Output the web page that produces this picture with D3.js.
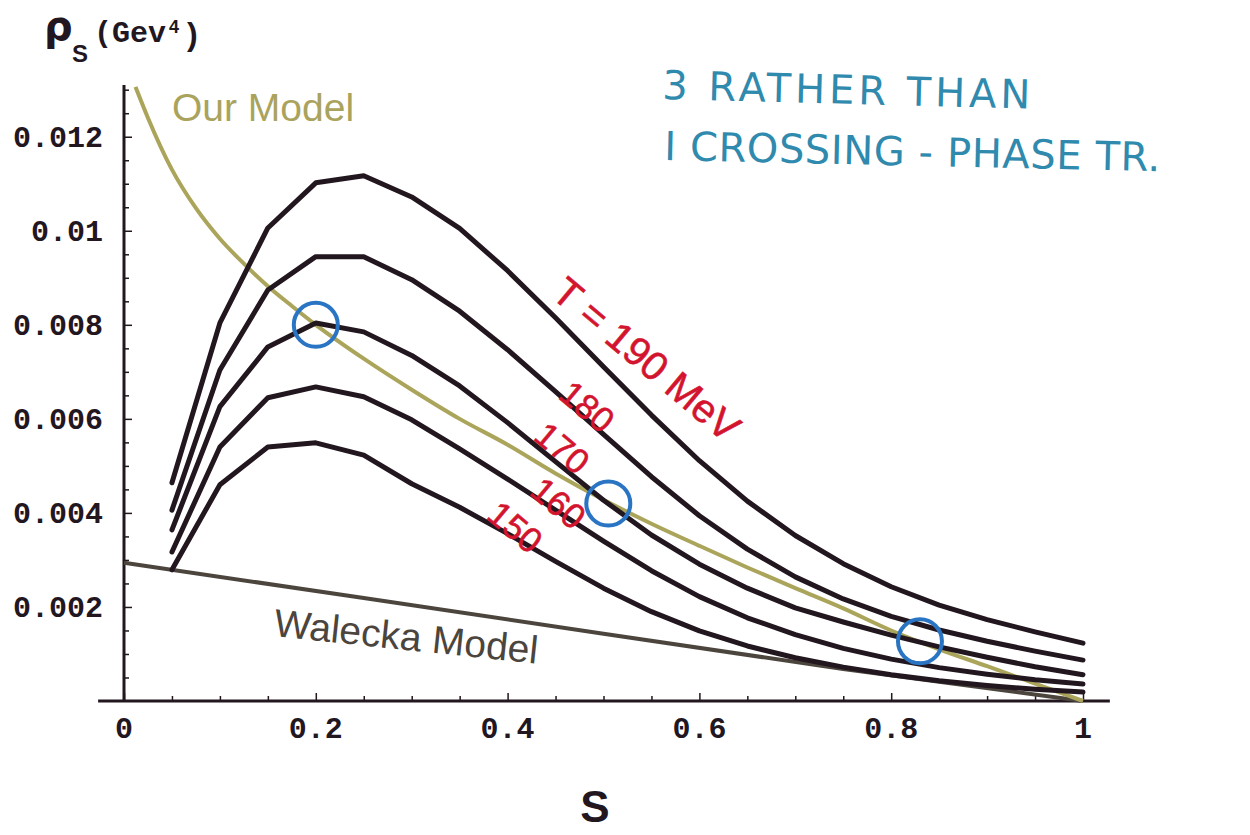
<!DOCTYPE html>
<meta charset="utf-8">
<style>
  body { margin: 0; background: #fff; }
  svg { display: block; }
</style>
<svg width="1250" height="835"></svg>
<script src="https://d3js.org/d3.v7.min.js"></script>
<script>

    // s grid of the temperature curves
    var sGrid = [0.05, 0.1, 0.15, 0.2, 0.25, 0.3, 0.35, 0.4, 0.45, 0.5,
                 0.55, 0.6, 0.65, 0.7, 0.75, 0.8, 0.85, 0.9, 0.95, 1.0];
    var t190 = [0.00464, 0.00804, 0.01006, 0.01102, 0.01117, 0.01072, 0.01005, 0.00915, 0.00815, 0.00711,
                0.00608, 0.00511, 0.00425, 0.00352, 0.00292, 0.00243, 0.00204, 0.00173, 0.00147, 0.00123];
    var t180 = [0.00406, 0.00704, 0.00874, 0.00945, 0.00945, 0.00896, 0.00829, 0.00747, 0.00658, 0.00567,
                0.00477, 0.00394, 0.00323, 0.00264, 0.00217, 0.0018, 0.00151, 0.00127, 0.00106, 0.00087];
    var t170 = [0.00364, 0.00626, 0.00753, 0.00804, 0.00785, 0.00735, 0.0067, 0.00592, 0.00509, 0.00427,
                0.00353, 0.00291, 0.0024, 0.00198, 0.00168, 0.0014, 0.00115, 0.00093, 0.00073, 0.00056];
    var t160 = [0.00317, 0.0054, 0.00645, 0.00668, 0.00647, 0.00598, 0.00536, 0.00472, 0.00406, 0.0034,
                0.00277, 0.00222, 0.00177, 0.00141, 0.00112, 0.00089, 0.00071, 0.00057, 0.00045, 0.00036];
    var t150 = [0.00279, 0.0046, 0.0054, 0.00549, 0.00523, 0.00462, 0.00412, 0.00356, 0.00297, 0.0024,
                0.0019, 0.00149, 0.00117, 0.00092, 0.00072, 0.00056, 0.00043, 0.00033, 0.00025, 0.00019];
    var tempLabels = ["T = 190 MeV", "180", "170", "160", "150"];

    // "Our Model"
    var modelS = [0.012, 0.025, 0.05, 0.075, 0.1, 0.125, 0.15, 0.175, 0.2, 0.25, 0.3, 0.35, 0.4,
                  0.45, 0.5, 0.55, 0.6, 0.65, 0.7, 0.75, 0.8, 0.85, 0.9, 0.95, 1.0];
    var modelRho = [0.01306, 0.0124, 0.0113, 0.01048, 0.00983, 0.0093, 0.00882, 0.0084, 0.008, 0.00728,
                    0.00662, 0.006, 0.00545, 0.00484, 0.00428, 0.00377, 0.0033, 0.00284, 0.0024,
                    0.00197, 0.0015, 0.0011, 0.00074, 0.00037, 0.0];

    // Walecka model
    var waleckaS = [0, 0.25, 0.5, 0.75, 1];
    var waleckaRho = [0.00294, 0.00219, 0.00143, 0.00068, 0.0];

    // the three crossings of the T = 170 curve
    var crossS = [0.2, 0.505, 0.83];
    var crossRho = [0.008, 0.0042, 0.00127];

    var xTicks = [0, 0.2, 0.4, 0.6, 0.8, 1];
    var xTickLabels = ["0", "0.2", "0.4", "0.6", "0.8", "1"];
    var yTicks = [0.002, 0.004, 0.006, 0.008, 0.01, 0.012];
    var yTickLabels = ["0.002", "0.004", "0.006", "0.008", "0.01", "0.012"];

    var svg = d3.select("svg");

    var x = d3.scaleLinear().domain([0, 1]).range([124, 1083]);
    var y = d3.scaleLinear().domain([0, 0.0131]).range([701, 85]);

    var ink = "#22161f";
    var tickFont = "'Liberation Mono', 'DejaVu Sans Mono', monospace";
    var sans = "'Liberation Sans', Arial, sans-serif";

    // x axis
    var xAxis = d3.axisBottom(x)
        .tickValues(d3.range(0, 1.0001, 0.05))
        .tickSize(0)
        .tickFormat("");
    var gx = svg.append("g").attr("transform", "translate(0,701)").call(xAxis);
    gx.select(".domain").remove();
    gx.selectAll(".tick line")
        .attr("y2", function(d) { return Math.abs(d * 5 - Math.round(d * 5)) < 1e-6 ? -8 : -5; })
        .attr("stroke", ink).attr("stroke-width", 1.5);
    svg.append("line")
        .attr("x1", x(-0.027)).attr("x2", x(1.028))
        .attr("y1", 701).attr("y2", 701)
        .attr("stroke", ink).attr("stroke-width", 3);
    svg.append("g").selectAll("text")
        .data(xTicks)
        .join("text")
        .attr("x", function(d) { return x(d); })
        .attr("y", 738)
        .attr("text-anchor", "middle")
        .attr("font-family", tickFont).attr("font-weight", "bold").attr("font-size", 30)
        .attr("fill", ink)
        .text(function(d, i) { return xTickLabels[i]; });

    // y axis
    var yAxis = d3.axisRight(y)
        .tickValues(d3.range(0.0005, 0.01301, 0.0005))
        .tickSize(0)
        .tickFormat("");
    var gy = svg.append("g").attr("transform", "translate(124,0)").call(yAxis);
    gy.select(".domain").remove();
    gy.selectAll(".tick line")
        .attr("x2", function(d) { var k = d / 0.002; return Math.abs(k - Math.round(k)) < 1e-6 ? 8 : 5; })
        .attr("stroke", ink).attr("stroke-width", 1.5);
    svg.append("line")
        .attr("x1", 124).attr("x2", 124)
        .attr("y1", y(0.0131)).attr("y2", 702)
        .attr("stroke", ink).attr("stroke-width", 3);
    svg.append("g").selectAll("text")
        .data(yTicks)
        .join("text")
        .attr("x", 103)
        .attr("y", function(d) { return y(d) + 10; })
        .attr("text-anchor", "end")
        .attr("font-family", tickFont).attr("font-weight", "bold").attr("font-size", 30)
        .attr("fill", ink)
        .text(function(d, i) { return yTickLabels[i]; });

    // axis titles
    var yt = svg.append("g").attr("fill", ink).attr("font-weight", "bold");
    yt.append("text").attr("x", 44).attr("y", 40)
        .attr("font-family", "'DejaVu Sans', sans-serif").attr("font-size", 40).text("ρ");
    yt.append("text").attr("x", 72).attr("y", 62)
        .attr("font-family", sans).attr("font-size", 24).text("S");
    yt.append("text").attr("x", 94).attr("y", 42)
        .attr("font-family", tickFont).attr("font-size", 30).text("(Gev");
    yt.append("text").attr("x", 169).attr("y", 33)
        .attr("font-family", sans).attr("font-size", 18).text("4");
    yt.append("text").attr("x", 187).attr("y", 45)
        .attr("font-family", sans).attr("font-size", 32).text(")");

    svg.append("text")
        .attr("x", 595).attr("y", 822)
        .attr("text-anchor", "middle")
        .attr("font-family", sans)
        .attr("font-weight", "bold").attr("font-size", 44)
        .attr("fill", ink)
        .text("S");

    var line = d3.line()
        .x(function(d) { return x(d[0]); })
        .y(function(d) { return y(d[1]); });
    var smooth = d3.line()
        .curve(d3.curveMonotoneX)
        .x(function(d) { return x(d[0]); })
        .y(function(d) { return y(d[1]); });

    // Walecka model
    svg.append("path")
        .datum(d3.zip(waleckaS, waleckaRho))
        .attr("d", line)
        .attr("fill", "none")
        .attr("stroke", "#4b453e")
        .attr("stroke-width", 4);

    // Our model
    svg.append("path")
        .datum(d3.zip(modelS, modelRho))
        .attr("d", smooth)
        .attr("fill", "none")
        .attr("stroke", "#aba55c")
        .attr("stroke-width", 4);

    // temperature curves
    var tempSeries = [t190, t180, t170, t160, t150];
    svg.append("g").selectAll("path")
        .data(tempSeries)
        .join("path")
        .attr("d", function(d) { return line(d3.zip(sGrid, d)); })
        .attr("fill", "none")
        .attr("stroke", ink)
        .attr("stroke-width", 5)
        .attr("stroke-linejoin", "round")
        .attr("stroke-linecap", "round");

    // temperature labels (centre position in data units, font size)
    var labelPos = [[0.545, 0.00727, 40], [0.483, 0.00626, 35], [0.457, 0.00538, 35],
                    [0.453, 0.00421, 35], [0.408, 0.0037, 35]];
    svg.append("g").selectAll("text")
        .data(tempLabels)
        .join("text")
        .attr("transform", function(d, i) {
            return "translate(" + x(labelPos[i][0]) + "," + y(labelPos[i][1]) + ") rotate(40)";
        })
        .attr("text-anchor", "middle")
        .attr("dy", "0.35em")
        .attr("font-family", sans)
        .attr("font-size", function(d, i) { return labelPos[i][2]; })
        .attr("fill", "#d3142e")
        .attr("stroke", "#d3142e")
        .attr("stroke-width", 0.6)
        .text(function(d) { return d; });

    // model labels
    svg.append("text")
        .attr("x", 172).attr("y", 121)
        .attr("font-family", sans)
        .attr("font-size", 39)
        .attr("fill", "#aaa35e")
        .text("Our Model");
    svg.append("text")
        .attr("transform", "translate(273,636) rotate(6)")
        .attr("font-family", sans)
        .attr("font-size", 39)
        .attr("fill", "#4b453e")
        .text("Walecka Model");

    // crossing circles
    svg.append("g").selectAll("circle")
        .data(crossS)
        .join("circle")
        .attr("cx", function(d) { return x(d); })
        .attr("cy", function(d, i) { return y(crossRho[i]); })
        .attr("r", 22)
        .attr("fill", "none")
        .attr("stroke", "#2a74c4")
        .attr("stroke-width", 4);

    // handwritten note
    var note = svg.append("g")
        .attr("fill", "#2f8aae")
        .attr("font-family", "'DejaVu Sans', sans-serif")
        .attr("font-size", 40);
    note.append("text")
        .attr("transform", "translate(662,99) rotate(1.5)")
        .attr("textLength", 368).attr("lengthAdjust", "spacing")
        .text("3 RATHER  THAN");
    note.append("text")
        .attr("transform", "translate(664,160) rotate(1.3)")
        .attr("textLength", 496).attr("lengthAdjust", "spacing")
        .text("I CROSSING - PHASE TR.");
</script>
